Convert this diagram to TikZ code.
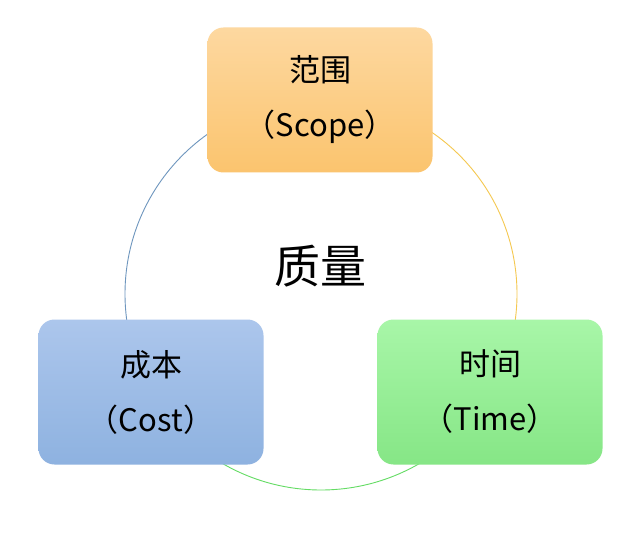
\documentclass[tikz,border=0pt]{standalone}
\usepackage{fontspec}
\setmainfont{Noto Sans CJK SC}
\begin{document}
\begin{tikzpicture}[x=1pt,y=-1pt,
  boxst/.style={rounded corners=16pt,minimum width=225pt,minimum height=145pt,inner sep=0pt,align=center,font=\fontsize{31}{55}\selectfont}]
\useasboundingbox[fill=white] (0,0) rectangle (640,556);
\coordinate (c) at (321,294);
\draw[color={rgb,255:red,110;green,150;blue,190},line width=0.9pt] ([shift={(270:196)}]c) arc[start angle=270,end angle=135,radius=196];
\draw[color={rgb,255:red,245;green,200;blue,80},line width=0.9pt] ([shift={(270:196)}]c) arc[start angle=270,end angle=405,radius=196];
\draw[color={rgb,255:red,100;green,220;blue,100},line width=0.9pt] ([shift={(45:196)}]c) arc[start angle=45,end angle=135,radius=196];
\node[boxst,top color={rgb,255:red,253;green,216;blue,160},bottom color={rgb,255:red,251;green,196;blue,110}] (scope) at (320,100) {范围\\（Scope）};
\node[boxst,top color={rgb,255:red,172;green,198;blue,236},bottom color={rgb,255:red,142;green,178;blue,224}] (cost) at (151,392) {成本\\（Cost）};
\node[boxst,top color={rgb,255:red,168;green,246;blue,168},bottom color={rgb,255:red,134;green,230;blue,134}] (time) at (490,392) {时间\\（Time）};
\node[font=\fontsize{46}{52}\selectfont] (q) at (320,266) {质量};
\end{tikzpicture}
\end{document}
